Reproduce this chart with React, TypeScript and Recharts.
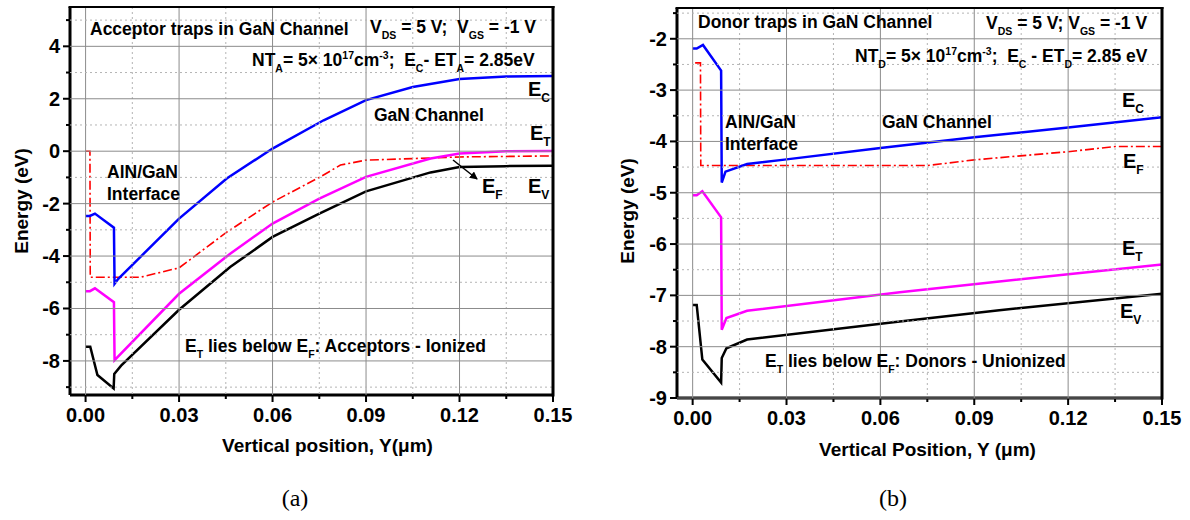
import React from "react";
import { LineChart, Line, XAxis, YAxis, Label } from "recharts";

// ---------- panel (a): acceptor traps ----------
const ecA_x = [0, 0.0014, 0.003, 0.0091, 0.0093, 0.0105, 0.0185, 0.03, 0.0453, 0.06, 0.0764, 0.09, 0.105, 0.12, 0.135, 0.15];
const ecA_y = [-2.47, -2.47, -2.38, -2.92, -5.06, -4.87, -3.93, -2.57, -1.04, 0.1, 1.18, 1.95, 2.45, 2.75, 2.85, 2.87];
const etA_x = [0, 0.0014, 0.003, 0.0091, 0.0093, 0.03, 0.0464, 0.06, 0.075, 0.09, 0.1107, 0.12, 0.135, 0.15];
const etA_y = [-5.34, -5.34, -5.23, -5.76, -7.97, -5.44, -3.91, -2.76, -1.81, -0.98, -0.28, -0.09, 0.0, 0.01];
const evA_x = [0, 0.0015, 0.0038, 0.009, 0.0092, 0.0114, 0.03, 0.0464, 0.06, 0.075, 0.09, 0.1107, 0.12, 0.135, 0.15];
const evA_y = [-7.46, -7.46, -8.54, -9.05, -8.5, -8.18, -6.05, -4.42, -3.27, -2.38, -1.53, -0.81, -0.6, -0.57, -0.56];
const efA_x = [0, 0.0014, 0.0015, 0.003, 0.0175, 0.03, 0.0453, 0.06, 0.0753, 0.0818, 0.09, 0.1107, 0.12, 0.15];
const efA_y = [0, 0, -4.81, -4.81, -4.81, -4.45, -3.09, -1.94, -0.98, -0.53, -0.34, -0.26, -0.22, -0.18];

// ---------- panel (b): donor traps ----------
const ecB_x = [0, 0.0013, 0.0033, 0.0091, 0.0093, 0.0105, 0.0174, 0.03, 0.06, 0.09, 0.12, 0.15];
const ecB_y = [-2.19, -2.19, -2.12, -2.62, -4.8, -4.59, -4.44, -4.35, -4.13, -3.92, -3.73, -3.53];
const efB_x = [0.0008, 0.0025, 0.0026, 0.075, 0.09, 0.12, 0.135, 0.15];
const efB_y = [-2.47, -2.47, -4.47, -4.47, -4.36, -4.2, -4.1, -4.1];
const etB_x = [0, 0.0013, 0.0031, 0.0091, 0.0093, 0.0108, 0.0174, 0.0662, 0.098, 0.12, 0.15];
const etB_y = [-5.05, -5.05, -4.97, -5.48, -7.67, -7.44, -7.3, -6.94, -6.73, -6.59, -6.4];
const evB_x = [0, 0.0013, 0.0031, 0.0091, 0.0093, 0.0108, 0.0174, 0.0662, 0.098, 0.15];
const evB_y = [-7.19, -7.19, -8.25, -8.7, -8.22, -8.03, -7.86, -7.51, -7.29, -6.97];

// ticks
const xMajor = [0, 0.03, 0.06, 0.09, 0.12, 0.15];
const xMinor = [0.015, 0.045, 0.075, 0.105, 0.135];
const yMajorA = [-8, -6, -4, -2, 0, 2, 4];
const yMinorA = [-9, -7, -5, -3, -1, 1, 3, 5];
const yMajorB = [-9, -8, -7, -6, -5, -4, -3, -2];
const yMinorB = [-8.5, -7.5, -6.5, -5.5, -4.5, -3.5, -2.5, -1.5];

const pts = (xs: number[], ys: number[]) => xs.map((x, i) => ({ x, e: ys[i] }));

const FONT = '"Liberation Sans", Arial, sans-serif';

// chart boxes (page pixels)
const boxA = { left: 0, w: 580, h: 460, mt: 7, mr: 27, yW: 70, xH: 65 };
const boxB = { left: 600, w: 590, h: 460, mt: 8, mr: 28, yW: 77, xH: 62 };

// ticks also draw the grid (solid at major, dotted at minor)
const XTick = (props: any) => {
  const { x, y, payload, majors, plotH } = props;
  const major = majors.some((m: number) => Math.abs(m - payload.value) < 1e-9);
  return (
    <g>
      {major ? (
        <rect x={x - 0.5} y={y - plotH} width={1} height={plotH} fill="#8c8c8c" />
      ) : (
        <line x1={x} x2={x} y1={y - plotH} y2={y} stroke="#b4b4b4" strokeWidth={1} strokeDasharray="2 3" />
      )}
      <rect x={x - 1} y={y} width={2} height={major ? 7 : 4} fill="#000" />
      {major && (
        <text x={x} y={y + 27} textAnchor="middle" fontFamily={FONT} fontWeight="bold" fontSize={20} fill="#000">
          {payload.value.toFixed(2)}
        </text>
      )}
    </g>
  );
};

const YTick = (props: any) => {
  const { x, y, payload, majors, plotW } = props;
  const major = majors.includes(payload.value);
  return (
    <g>
      {major ? (
        <rect x={x} y={y - 0.5} width={plotW} height={1} fill="#8c8c8c" />
      ) : (
        <line x1={x} x2={x + plotW} y1={y} y2={y} stroke="#b4b4b4" strokeWidth={1} strokeDasharray="2 3" />
      )}
      <rect x={x - (major ? 7 : 4)} y={y - 1} width={major ? 7 : 4} height={2} fill="#000" />
      {major && (
        <text x={x - 10} y={y + 7} textAnchor="end" fontFamily={FONT} fontWeight="bold" fontSize={20} fill="#000">
          {payload.value}
        </text>
      )}
    </g>
  );
};

type Part = string | { sub: string } | { sup: string };

const Rich = ({ x, y, parts, size = 17, anchor = "start" }: { x: number; y: number; parts: Part[]; size?: number; anchor?: string }) => {
  let shift = 0;
  const spans = parts.map((p, i) => {
    if (typeof p === "string") {
      const dy = -shift;
      shift = 0;
      return (
        <tspan key={i} dy={dy} fontSize={size}>
          {p}
        </tspan>
      );
    }
    const target = "sub" in p ? size * 0.32 : -size * 0.42;
    const dy = target - shift;
    shift = target;
    return (
      <tspan key={i} dy={dy} fontSize={size * 0.6}>
        {"sub" in p ? p.sub : p.sup}
      </tspan>
    );
  });
  return (
    <text x={x} y={y} textAnchor={anchor as any} fontFamily={FONT} fontWeight="bold" fill="#000" style={{ whiteSpace: "pre" }}>
      {spans}
    </text>
  );
};

const series = (ec: any[], et: any[], ev: any[], ef: any[]) => [
  <Line key="ef" data={ef} dataKey="e" type="linear" stroke="#ff0000" strokeWidth={1.6} strokeDasharray="9 3 2 3" dot={false} isAnimationActive={false} />,
  <Line key="ev" data={ev} dataKey="e" type="linear" stroke="#000000" strokeWidth={2.5} dot={false} isAnimationActive={false} />,
  <Line key="et" data={et} dataKey="e" type="linear" stroke="#ff00ff" strokeWidth={2.5} dot={false} isAnimationActive={false} />,
  <Line key="ec" data={ec} dataKey="e" type="linear" stroke="#0000ff" strokeWidth={2.5} dot={false} isAnimationActive={false} />,
];

const yTitle = (dx: number, dy: number) => (p: any) => {
  const vb = p.viewBox;
  const cx = vb.x + dx;
  const cy = vb.y + vb.height / 2 + dy;
  return (
    <text x={cx} y={cy} transform={`rotate(-90 ${cx} ${cy})`} textAnchor="middle" dominantBaseline="central" fontFamily={FONT} fontWeight="bold" fontSize={19} fill="#000">
      Energy (eV)
    </text>
  );
};

const xTitle = (text: string, dx: number, y: number) => (p: any) => {
  const vb = p.viewBox;
  return (
    <text x={vb.x + vb.width / 2 + dx} y={vb.y + y} textAnchor="middle" fontFamily={FONT} fontWeight="bold" fontSize={19} fill="#000">
      {text}
    </text>
  );
};

const Panel = ({ box, yMajor, yMinor, yDomain, xLabel, xdx, xly, ydx, ydy, data }: any) => {
  const plotW = box.w - box.yW - box.mr;
  const plotH = box.h - box.mt - box.xH;
  return (
    <LineChart width={box.w} height={box.h} margin={{ top: box.mt, right: box.mr, left: 0, bottom: 0 }}>
      <XAxis
        dataKey="x"
        type="number"
        domain={[-0.005, 0.15]}
        allowDataOverflow
        ticks={[...xMajor, ...xMinor].sort((a, b) => a - b)}
        interval={0}
        tickSize={0}
        tickMargin={0}
        tickLine={false}
        tick={<XTick majors={xMajor} plotH={plotH} />}
        height={box.xH}
        axisLine={{ stroke: "#000", strokeWidth: 3 }}
      >
        <Label content={xTitle(xLabel, xdx, xly)} />
      </XAxis>
      <YAxis
        type="number"
        domain={yDomain}
        allowDataOverflow
        ticks={[...yMajor, ...yMinor].sort((a: number, b: number) => a - b)}
        interval={0}
        tickSize={0}
        tickMargin={0}
        tickLine={false}
        tick={<YTick majors={yMajor} plotW={plotW} />}
        width={box.yW}
        axisLine={{ stroke: "#000", strokeWidth: 3 }}
      >
        <Label content={yTitle(ydx, ydy)} />
      </YAxis>
      {series(data[0], data[1], data[2], data[3])}
    </LineChart>
  );
};

// plot frame: top and right edges as filled bars
const Frame = ({ box }: any) => {
  const x0 = box.left + box.yW;
  const x1 = box.left + box.w - box.mr;
  const y0 = box.mt;
  const y1 = box.h - box.xH;
  return (
    <g>
      <rect x={x0 - 1.5} y={y0 - 1} width={x1 - x0 + 3} height={2} fill="#000" />
      <rect x={x1 - 1.5} y={y0 - 1} width={3} height={y1 - y0 + 2.5} fill="#000" />
    </g>
  );
};

const E = (x: number, y: number, s: string) => <Rich x={x} y={y} size={20} parts={["E", { sub: s }]} />;

export default function App() {
  return (
    <div style={{ position: "absolute", left: 0, top: 0, width: 1190, height: 520, background: "#fff" }}>
      <div style={{ position: "absolute", left: boxA.left, top: 0 }}>
        <Panel
          box={boxA}
          yMajor={yMajorA}
          yMinor={yMinorA}
          yDomain={[-9.3, 5.5]}
          xLabel="Vertical position, Y(μm)"
          xdx={16}
          xly={57}
          ydx={21}
          ydy={0}
          data={[pts(ecA_x, ecA_y), pts(etA_x, etA_y), pts(evA_x, evA_y), pts(efA_x, efA_y)]}
        />
      </div>
      <div style={{ position: "absolute", left: boxB.left, top: 0 }}>
        <Panel
          box={boxB}
          yMajor={yMajorB}
          yMinor={yMinorB}
          yDomain={[-9, -1.4]}
          xLabel="Vertical Position, Y (μm)"
          xdx={8}
          xly={58}
          ydx={27}
          ydy={8}
          data={[pts(ecB_x, ecB_y), pts(etB_x, etB_y), pts(evB_x, evB_y), pts(efB_x, efB_y)]}
        />
      </div>
      <svg width={1190} height={520} style={{ position: "absolute", left: 0, top: 0, pointerEvents: "none" }}>
        <defs>
          <marker id="arr" markerWidth="8" markerHeight="8" refX="7" refY="4" orient="auto" markerUnits="userSpaceOnUse">
            <path d="M0,0 L8,4 L0,8 z" fill="#000" />
          </marker>
        </defs>
        <Frame box={boxA} />
        <Frame box={boxB} />
        {/* panel (a) annotations */}
        <Rich x={90} y={35} size={17.5} parts={["Acceptor traps in GaN Channel"]} />
        <Rich x={370} y={33} size={17.5} parts={["V", { sub: "DS" }, " = 5 V;  V", { sub: "GS" }, " = -1 V"]} />
        <Rich x={252} y={66} size={17.5} parts={["NT", { sub: "A" }, "= 5× 10", { sup: "17" }, "cm", { sup: "-3" }, ";  E", { sub: "C" }, "- ET", { sub: "A" }, "= 2.85eV"]} />
        <Rich x={374} y={121} size={17.5} parts={["GaN Channel"]} />
        <Rich x={107} y={178} size={17.5} parts={["AlN/GaN"]} />
        <Rich x={107} y={200} size={17.5} parts={["Interface"]} />
        <Rich x={185} y={352} size={17.5} parts={["E", { sub: "T" }, " lies below E", { sub: "F" }, ": Acceptors - Ionized"]} />
        {E(528, 96, "C")}
        {E(530, 140, "T")}
        {E(528, 193, "V")}
        {E(482, 193, "F")}
        <path d="M453,160L477,179" stroke="#000" strokeWidth={1.5} markerEnd="url(#arr)" />
        {/* panel (b) annotations */}
        <Rich x={698} y={28} size={17.5} parts={["Donor traps in GaN Channel"]} />
        <Rich x={986} y={29} size={17.5} parts={["V", { sub: "DS" }, " = 5 V; V", { sub: "GS" }, " = -1 V"]} />
        <Rich x={855} y={62} size={17.5} parts={["NT", { sub: "D" }, "= 5× 10", { sup: "17" }, "cm", { sup: "-3" }, ";  E", { sub: "C" }, " - ET", { sub: "D" }, "= 2.85 eV"]} />
        <Rich x={882} y={128} size={17.5} parts={["GaN Channel"]} />
        <Rich x={725} y={128} size={17.5} parts={["AlN/GaN"]} />
        <Rich x={725} y={150} size={17.5} parts={["Interface"]} />
        <Rich x={765} y={367} size={17.5} parts={["E", { sub: "T" }, " lies below E", { sub: "F" }, ": Donors - Unionized"]} />
        {E(1122, 107, "C")}
        {E(1123, 168, "F")}
        {E(1122, 255, "T")}
        {E(1120, 318, "V")}
        {/* captions */}
        <text x={295} y={506} textAnchor="middle" fontFamily='"Liberation Serif", "Times New Roman", serif' fontSize={24} fill="#000">(a)</text>
        <text x={893} y={506} textAnchor="middle" fontFamily='"Liberation Serif", "Times New Roman", serif' fontSize={24} fill="#000">(b)</text>
      </svg>
    </div>
  );
}
